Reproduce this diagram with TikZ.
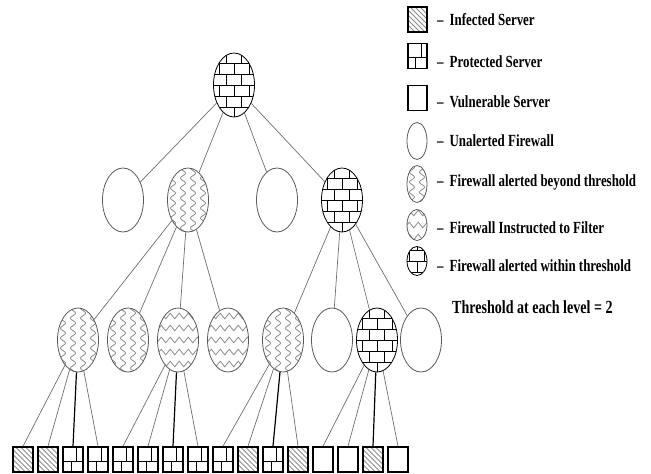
\documentclass[tikz,border=0pt]{standalone}
\usepackage{fontspec}
\setmainfont{Liberation Serif}
\newfontfamily\legfont{Liberation Serif}[FakeStretch=0.76]
\usepackage{tikz}
\usetikzlibrary{shapes.geometric,decorations.pathmorphing}
\definecolor{linegrey}{HTML}{6E6E6E}
\definecolor{wavegrey}{HTML}{8C8C8C}
\definecolor{rimgrey}{HTML}{5A5A5A}

\tikzset{
  fw/.style={ellipse, draw=rimgrey, line width=0.8pt, minimum width=41pt, minimum height=64pt, inner sep=0pt},
  fwkey/.style={fw, minimum width=20pt, minimum height=37pt},
  fwbrick/.style={draw=black, path picture={
    \foreach \r in {-4,...,4}
      \draw[black, line width=0.9pt] ([xshift=-30pt, yshift=\r*11pt]path picture bounding box.center) -- ++(60pt,0pt);
    \foreach \r in {-3,...,4}{
      \foreach \c in {-3,...,3}{
        \pgfmathsetmacro\xo{\c*15+mod(\r+4,2)*7.5}
        \draw[black, line width=0.9pt] ([xshift=\xo pt, yshift=\r*11pt]path picture bounding box.center) -- ++(0pt,-11pt);
      }
    }}},
  fwbeyond/.style={path picture={
    \foreach \c in {-2,...,1}
      \draw[wavegrey, line width=0.8pt, decorate, decoration={snake, amplitude=2.6pt, segment length=10pt}]
        ([xshift=\c*10pt+5pt, yshift=40pt]path picture bounding box.center) -- ++(0pt,-80pt);
    }},
  fwfilter/.style={path picture={
    \foreach \r in {-2,...,2}
      \draw[wavegrey, line width=0.8pt, decorate, decoration={zigzag, amplitude=2.8pt, segment length=9pt}]
        ([xshift=-28pt, yshift=\r*12pt]path picture bounding box.center) -- ++(56pt,0pt);
    }},
  srv/.style={rectangle, draw=black, line width=1.5pt, minimum width=20pt, minimum height=25pt, inner sep=0pt},
  srvkey/.style={srv, minimum width=19pt},
  srvinf/.style={path picture={
    \foreach \k in {-6,...,6}
      \draw[wavegrey, line width=0.8pt] ([xshift=\k*5pt-15pt, yshift=15pt]path picture bounding box.center) -- ++(30pt,-30pt);
    }},
  srvpro/.style={path picture={
    \draw[black, line width=1pt] ([xshift=-12pt, yshift=-1.5pt]path picture bounding box.center) -- ++(24pt,0pt);
    \draw[black, line width=1pt] ([xshift=3.5pt]path picture bounding box.north) -- ([xshift=3.5pt, yshift=-1.5pt]path picture bounding box.center);
    \draw[black, line width=1pt] ([xshift=-2pt]path picture bounding box.south) -- ([xshift=-2pt, yshift=-1.5pt]path picture bounding box.center);
    }},
  srvvul/.style={},
  lk/.style={draw=linegrey, line width=0.7pt},
  act/.style={draw=black, line width=1.2pt},
  leg/.style={anchor=west, inner sep=0pt, font=\legfont\bfseries\fontsize{17}{20}\selectfont}
}
\newcommand{\legdash}{\textendash\hspace{6pt}}

\begin{document}
\begin{tikzpicture}[x=1pt, y=-1pt]
\useasboundingbox (0,0) rectangle (651,474);
% firewalls
\node[fw, fwbrick] (r) at (234,85) {};
\node[fw] (a1) at (123,200) {};
\node[fw, fwbeyond] (a2) at (188,200) {};
\node[fw] (a3) at (277,200) {};
\node[fw, fwbrick] (a4) at (342,200) {};
\node[fw, fwbeyond] (b1) at (78,340) {};
\node[fw, fwbeyond] (b2) at (128,340) {};
\node[fw, fwfilter] (b3) at (178,340) {};
\node[fw, fwfilter] (b4) at (228,340) {};
\node[fw, fwbeyond] (b5) at (283,340) {};
\node[fw] (b6) at (332,340) {};
\node[fw, fwbrick] (b7) at (377,340) {};
\node[fw] (b8) at (421,340) {};
% servers
\foreach \i/\ty in {1/srvinf,2/srvinf,3/srvpro,4/srvpro,5/srvpro,6/srvpro,7/srvpro,8/srvpro,
                    9/srvpro,10/srvinf,11/srvpro,12/srvinf,13/srvvul,14/srvvul,15/srvinf,16/srvvul}
  \node[srv, \ty] (s\i) at ({25*\i-2},459.5) {};
% links
\foreach \n in {1,...,4} \draw[lk] (r) -- (a\n);
\foreach \n in {1,...,4} \draw[lk] (a2) -- (b\n);
\foreach \n in {5,...,8} \draw[lk] (a4) -- (b\n);
\foreach \p/\f in {1/1,3/5,5/9,7/13}{
  \foreach \j in {0,1,3}{
    \pgfmathtruncatemacro\sn{\f+\j}
    \draw[lk] (b\p) -- (s\sn.north);
  }
  \pgfmathtruncatemacro\sn{\f+2}
  \draw[act] (b\p) -- (s\sn.north);
}
% legend
\node[srv, srvkey, srvinf] (k1) at (417.5,19.5) {};
\node[srv, srvkey, srvpro] (k2) at (417.5,56) {};
\node[srv, srvkey] (k3) at (417.5,98) {};
\node[fw, fwkey] (k4) at (417,141) {};
\node[fw, fwkey, fwbeyond] (k5) at (417,184) {};
\node[fw, fwkey, minimum height=31pt, fwfilter] (k6) at (417,225) {};
\node[fw, fwkey, minimum height=29pt, fwbrick] (k7) at (417,261) {};
\node[leg] (t1) at (437,20) {\legdash Infected Server};
\node[leg] (t2) at (437,62) {\legdash Protected Server};
\node[leg] (t3) at (437,102) {\legdash Vulnerable Server};
\node[leg] (t4) at (437,141) {\legdash Unalerted Firewall};
\node[leg] (t5) at (437,182) {\legdash Firewall alerted beyond threshold};
\node[leg] (t6) at (437,228) {\legdash Firewall Instructed to Filter};
\node[leg] (t7) at (437,266) {\legdash Firewall alerted within threshold};
\node[leg, font=\legfont\bfseries\fontsize{18.5}{20}\selectfont] (t8) at (452,307) {Threshold at each level = 2};
\end{tikzpicture}
\end{document}
